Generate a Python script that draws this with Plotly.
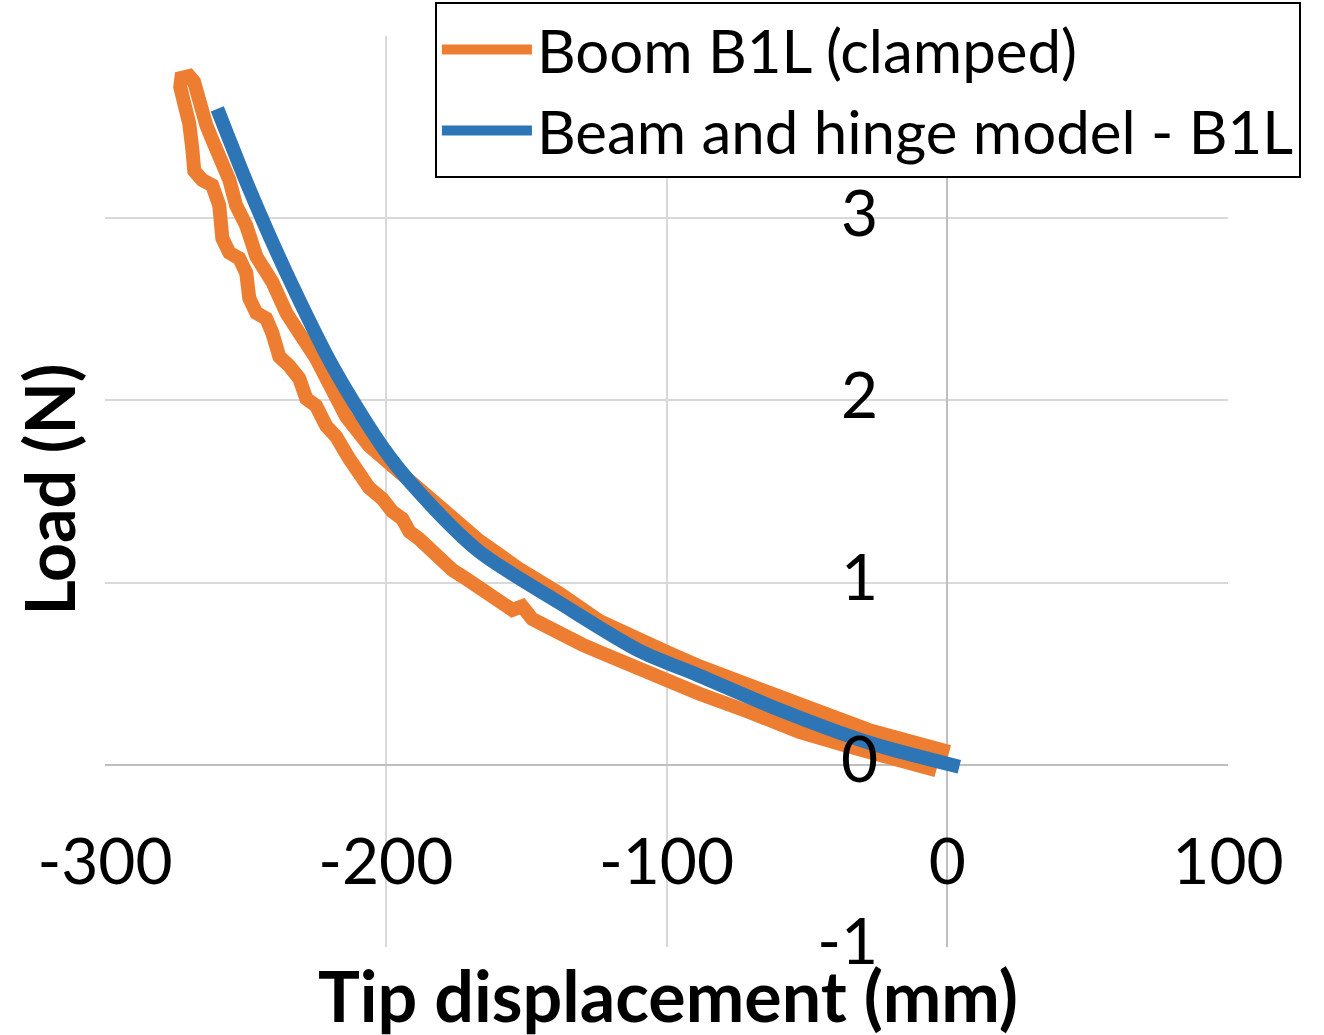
import plotly.graph_objects as go

# Measured tip displacement (mm) and load (N) for boom B1L, clamped.
# Loading branch from the origin up to the peak, then the unloading branch back.
boom_x = [0.7, -17.1, -27.8, -40.0, -52.7, -63.4, -75.0, -88.3, -100.0, -110.0,
          -124.0, -138.0, -152.0, -166.7, -178.5, -188.1, -196.3, -205.9, -214.1,
          -219.1, -224.8, -230.8, -235.4, -240.4, -246.1, -249.7, -253.3, -255.7,
          -259.3, -261.8, -263.9, -265.4, -266.4, -268.3, -270.0, -271.6,
          -272.8, -273.2, -271.4, -270.0, -268.9, -268.2, -265.4, -261.8, -259.3,
          -258.2, -255.7, -252.2, -249.7, -248.6, -246.1, -242.6, -240.4, -237.9,
          -234.4, -230.8, -228.3, -224.8, -221.2, -217.6, -213.0, -209.4, -205.9,
          -201.2, -197.7, -194.1, -191.6, -188.1, -184.5, -179.9, -176.3, -171.3,
          -166.7, -160.6, -154.9, -151.4, -147.8, -142.8, -137.1, -130.0, -124.0,
          -119.3, -110.0, -100.0, -88.3, -70.5, -52.7, -34.9, -17.1, -3.9]
boom_y = [0.07, 0.14, 0.19, 0.26, 0.33, 0.39, 0.46, 0.54, 0.62, 0.69,
          0.79, 0.94, 1.07, 1.23, 1.385, 1.51, 1.62, 1.75, 1.91,
          2.08, 2.23, 2.37, 2.48, 2.65, 2.79, 2.96, 3.07, 3.21,
          3.37, 3.43, 3.51, 3.60, 3.69, 3.75, 3.78, 3.785,
          3.77, 3.72, 3.63, 3.52, 3.38, 3.26, 3.21, 3.18, 3.07,
          2.89, 2.81, 2.78, 2.70, 2.56, 2.48, 2.45, 2.37, 2.24,
          2.19, 2.12, 2.01, 1.97, 1.86, 1.80, 1.68, 1.61, 1.52,
          1.46, 1.39, 1.35, 1.28, 1.24, 1.18, 1.13, 1.07, 1.02,
          0.97, 0.92, 0.85, 0.87, 0.80, 0.76, 0.71, 0.66, 0.62,
          0.59, 0.52, 0.45, 0.39, 0.29, 0.18, 0.10, 0.03, -0.03]

# Beam and hinge model prediction
model_x = [-260.0, -248.6, -235.4, -218.3, -200.5, -188.1, -166.7, -138.2,
           -109.7, -88.3, -59.8, -27.8, 4.3]
model_y = [3.60, 3.16, 2.70, 2.17, 1.73, 1.495, 1.17, 0.89,
           0.626, 0.489, 0.302, 0.121, -0.011]

x_ticks = [-300, -200, -100, 0, 100]
y_ticks = [-1, 0, 1, 2, 3, 4]

FONT = "Lato, 'Open Sans', sans-serif"
ORANGE = "#ED7D31"
BLUE = "#2E75B6"

fig = go.Figure()
fig.add_trace(go.Scatter(
    x=boom_x, y=boom_y, mode="lines", name="Boom B1L (clamped)",
    line=dict(color=ORANGE, width=14),
))
fig.add_trace(go.Scatter(
    x=model_x, y=model_y, mode="lines", name="Beam and hinge model - B1L",
    line=dict(color=BLUE, width=14, shape="spline", smoothing=0.8),
))

axis_common = dict(
    showgrid=True, gridcolor="#d9d9d9", gridwidth=2,
    zeroline=True, zerolinecolor="#bfbfbf", zerolinewidth=2,
    showline=False, ticks="", automargin=False,
    tickfont=dict(family=FONT, size=64, color="black"),
)

fig.update_layout(
    width=1324, height=1035,
    margin=dict(l=105, r=96, t=36, b=88, pad=0, autoexpand=False),
    paper_bgcolor="white", plot_bgcolor="white",
    font=dict(family=FONT, color="black"),
    xaxis=dict(range=[-300, 100], tickvals=x_ticks,
               ticktext=[str(v) for v in x_ticks],
               anchor="free", position=0.1998, ticklabelstandoff=54,
               **axis_common),
    yaxis=dict(range=[-1, 4], tickvals=y_ticks,
               ticktext=[str(v) for v in y_ticks],
               anchor="free", position=0.7507, ticklabelstandoff=70,
               ticklabelshift=-5,
               **axis_common),
    showlegend=True,
    legend=dict(
        xref="container", yref="container",
        x=0.3285, y=0.998, xanchor="left", yanchor="top",
        bgcolor="white", bordercolor="black", borderwidth=2,
        font=dict(family=FONT, size=60, color="black"),
        itemwidth=90, entrywidth=910, entrywidthmode="pixels",
    ),
    annotations=[
        dict(text="<b>Tip displacement (mm)</b>", xref="paper", yref="paper",
             x=0.501, y=-0.101, xanchor="center", yanchor="bottom",
             showarrow=False, font=dict(family=FONT, size=70, color="black")),
        dict(text="<b>Load (N)</b>", xref="paper", yref="paper",
             x=-0.050, y=0.502, xanchor="center", yanchor="middle",
             textangle=-90, showarrow=False,
             font=dict(family=FONT, size=68, color="black")),
    ],
)

fig.write_html("out.html")
